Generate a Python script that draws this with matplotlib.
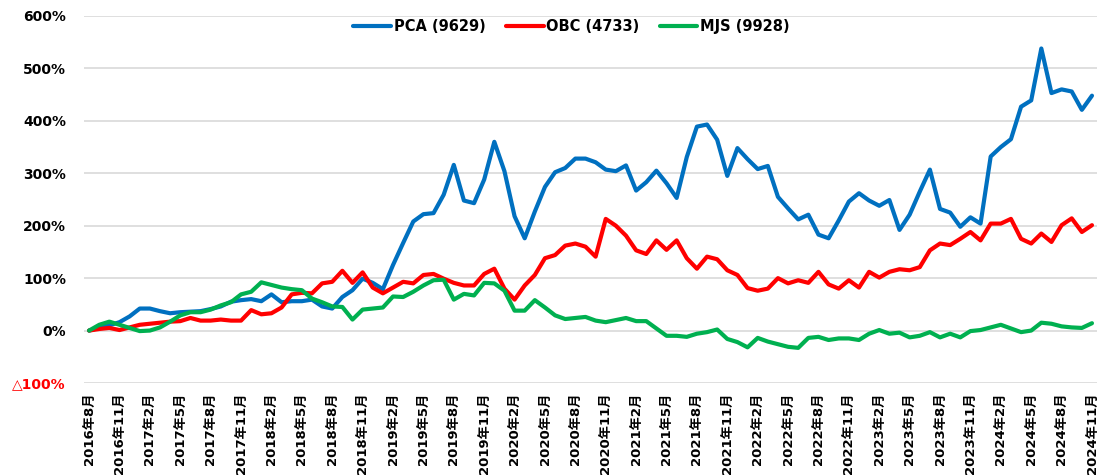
import matplotlib.pyplot as plt
import pandas as pd

# monthly cumulative return (%), Aug 2016 .. Nov 2024
months = pd.date_range("2016-08-01", "2024-11-01", freq="MS")
month_labels = [f"{d.year}年{d.month}月" for d in months]

pca = [0, 5, 10, 16, 27, 42, 42, 37, 33, 35, 36, 37, 41, 46, 55, 58, 60,
       56, 69, 54, 56, 56, 59, 46, 42, 64, 77, 99, 91, 79, 125, 167, 208,
       222, 224, 259, 316, 248, 243, 288, 360, 304, 218, 176, 227, 274, 302, 310, 328, 328,
       321, 307, 304, 315, 267, 283, 305, 281, 253, 331, 389, 393, 364, 295, 348, 327,
       308, 314, 255, 233, 212, 221, 183, 176, 210, 246, 262, 248, 238, 249, 192,
       221, 265, 307, 232, 225, 198, 216, 204, 332, 350, 365, 427, 439, 538, 453, 460, 456, 421, 448]

obc = [0, 3, 5, 1, 6, 11, 13, 15, 17, 18, 24, 19, 19, 21, 19, 19, 39,
       31, 33, 44, 69, 72, 71, 90, 93, 114, 91, 111, 82, 71, 82, 93, 90,
       106, 108, 99, 91, 86, 86, 108, 118, 80, 59, 86, 106, 138, 144, 162, 166, 160,
       141, 213, 200, 181, 153, 146, 172, 154, 172, 138, 118, 141, 136, 115, 106, 81,
       76, 80, 100, 90, 96, 91, 112, 88, 80, 96, 82, 112, 101, 112, 117,
       115, 121, 153, 166, 163, 175, 188, 172, 204, 204, 213, 175, 166, 185, 169, 201, 214, 188, 201]

mjs = [0, 11, 17, 11, 5, -1, 0, 6, 17, 29, 35, 35, 40, 48, 54, 69, 74,
       92, 87, 82, 79, 77, 61, 54, 46, 45, 21, 40, 42, 44, 65, 64, 74,
       86, 96, 97, 59, 70, 67, 91, 90, 76, 38, 38, 58, 44, 29, 22, 24, 26,
       19, 16, 20, 24, 18, 18, 4, -10, -10, -12, -6, -3, 2, -16, -22, -32,
       -14, -21, -26, -31, -33, -14, -12, -18, -15, -15, -18, -6, 1, -6, -4,
       -13, -10, -3, -13, -6, -13, -1, 1, 6, 11, 4, -3, 0, 15, 13, 8, 6, 5, 14]

y_ticks = [-100, 0, 100, 200, 300, 400, 500, 600]
y_labels = ["△100%", "0%", "100%", "200%", "300%", "400%", "500%", "600%"]

plt.rcParams['font.family'] = ['DejaVu Sans', 'Noto Sans CJK JP']

fig = plt.figure(figsize=(11.03, 4.76), dpi=100)
ax = fig.add_axes([0.0762, 0.1954, 0.9184, 0.771])

x = list(range(len(months)))
line_kw = dict(lw=3, solid_joinstyle='round', solid_capstyle='round')
ax.plot(x, pca, color='#0070C0', label='PCA (9629)', **line_kw)
ax.plot(x, obc, color='#FF0000', label='OBC (4733)', **line_kw)
ax.plot(x, mjs, color='#00B050', label='MJS (9928)', **line_kw)

ax.set_xlim(-0.5, len(months) - 0.5)
ax.set_ylim(-100, 600)
ax.set_yticks(y_ticks)
ax.set_yticklabels(y_labels, fontsize=10, fontweight='bold')
ax.get_yticklabels()[0].set_color('#FF0000')
ax.set_xticks(x[::3])
ax.set_xticklabels(month_labels[::3], rotation=90, fontsize=9.5, fontweight='semibold')

ax.grid(axis='y', color='#D9D9D9', lw=1.2)
ax.set_axisbelow(True)
for s in ax.spines.values():
    s.set_visible(False)
ax.tick_params(axis='y', length=0, pad=13)
ax.tick_params(axis='x', length=0, pad=7)

fig.legend(loc='center', bbox_to_anchor=(0.518, 0.945), ncol=3, frameon=False,
           prop={'weight': 'bold', 'size': 10.5}, handlelength=2.6,
           handletextpad=0.15, columnspacing=1.4)

plt.savefig("out.png", dpi=100)
